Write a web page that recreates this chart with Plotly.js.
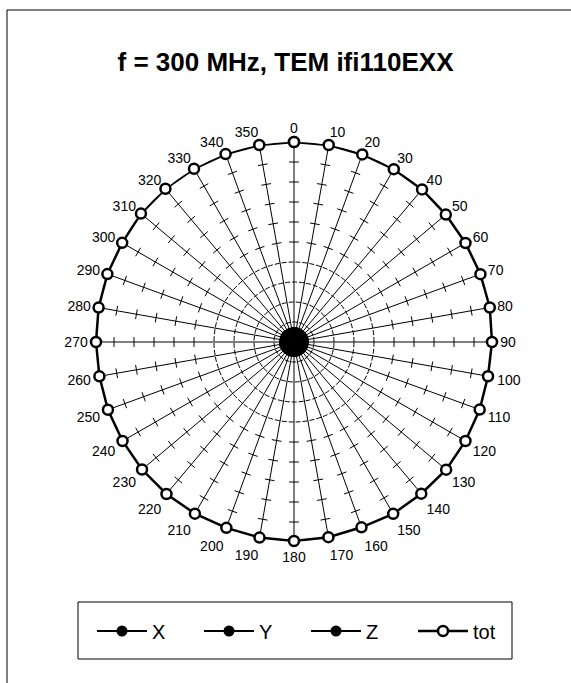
<!DOCTYPE html>
<html>
<head>
<meta charset="utf-8">
<script src="https://cdn.plot.ly/plotly-3.0.1.min.js"></script>
<style>
  html, body { margin: 0; padding: 0; background: #fff; }
  #chart { width: 571px; height: 683px; }
</style>
</head>
<body>
<div id="chart"></div>
<script>
// Angles (degrees) used as angular categories / tick labels
const angles = ['0','10','20','30','40','50','60','70','80','90','100','110','120','130','140','150','160','170',
                '180','190','200','210','220','230','240','250','260','270','280','290','300','310','320','330','340','350'];

// Series values (relative field strength)
const xVals = [0.045,0.045,0.046,0.045,0.044,0.045,0.045,0.046,0.045,0.045,0.044,0.045,0.045,0.046,0.045,0.045,0.044,0.045,
               0.045,0.045,0.046,0.045,0.044,0.045,0.045,0.046,0.045,0.045,0.044,0.045,0.045,0.046,0.045,0.045,0.044,0.045];
const yVals = [0.043,0.043,0.044,0.043,0.043,0.042,0.043,0.044,0.043,0.043,0.043,0.042,0.043,0.044,0.043,0.043,0.043,0.042,
               0.043,0.044,0.043,0.043,0.043,0.042,0.043,0.044,0.043,0.043,0.043,0.042,0.043,0.044,0.043,0.043,0.043,0.042];
const zVals = [0.047,0.047,0.048,0.047,0.046,0.047,0.047,0.048,0.047,0.047,0.046,0.047,0.047,0.048,0.047,0.047,0.046,0.047,
               0.047,0.047,0.048,0.047,0.046,0.047,0.047,0.048,0.047,0.047,0.046,0.047,0.047,0.048,0.047,0.047,0.046,0.047];
const totVals = [1.000,1.000,0.998,0.998,0.996,0.991,0.990,0.992,0.994,0.990,0.985,0.988,0.990,0.993,0.990,0.992,0.986,0.991,
                 0.995,0.993,0.989,0.991,0.992,0.992,0.990,0.990,0.988,0.990,0.992,0.993,0.992,0.999,1.000,1.000,1.000,1.000];

// Radial grid: full dashed rings and tick-cross rings
const ringVals = [0.1, 0.2, 0.3, 0.4];
const crossVals = [0.5, 0.6, 0.7, 0.8, 0.9];

function closed(a) { return a.concat([a[0]]); }

// decorative tick crosses on each spoke (grid decoration)
const crossR = [], crossT = [], crossA = [];
crossVals.forEach(r => {
  angles.forEach((a, i) => { crossR.push(r); crossT.push(a); crossA.push(i * 10); });
});

const font = 'Liberation Sans, Arial, sans-serif';

const traces = [
  {
    type: 'scatterpolar', r: crossR, theta: crossT, mode: 'markers',
    marker: { symbol: 'line-ew', size: 7, angle: crossA, color: '#000', line: { color: '#000', width: 1 } },
    showlegend: false, hoverinfo: 'skip', cliponaxis: false
  },
  {
    type: 'scatterpolar', name: 'X', r: closed(xVals), theta: closed(angles), mode: 'lines+markers',
    line: { color: '#000', width: 2 }, marker: { symbol: 'circle', size: 11, color: '#000' }, cliponaxis: false
  },
  {
    type: 'scatterpolar', name: 'Y', r: closed(yVals), theta: closed(angles), mode: 'lines+markers',
    line: { color: '#000', width: 2 }, marker: { symbol: 'circle', size: 11, color: '#000' }, cliponaxis: false
  },
  {
    type: 'scatterpolar', name: 'Z', r: closed(zVals), theta: closed(angles), mode: 'lines+markers',
    line: { color: '#000', width: 2 }, marker: { symbol: 'circle', size: 11, color: '#000' }, cliponaxis: false
  },
  {
    type: 'scatterpolar', name: 'tot', r: closed(totVals), theta: closed(angles), mode: 'lines+markers',
    line: { color: '#000', width: 2.5 },
    marker: { symbol: 'circle', size: 10, color: '#fff', line: { color: '#000', width: 2.5 } }, cliponaxis: false
  }
];

const layout = {
  width: 571, height: 683,
  margin: { l: 0, r: 0, t: 0, b: 0, autoexpand: false },
  paper_bgcolor: '#fff',
  font: { family: font, color: '#000' },
  title: {
    text: 'f = 300 MHz, TEM ifi110EXX',
    font: { family: font, size: 26, color: '#000', weight: 'bold' },
    x: 0.5, xanchor: 'center', y: 1 - 62 / 683, yanchor: 'middle'
  },
  polar: {
    domain: { x: [94 / 571, 494 / 571], y: [141 / 683, 541 / 683] },
    bgcolor: '#fff',
    radialaxis: {
      range: [0, 1], tickvals: ringVals, showticklabels: false, ticks: '', showline: false,
      gridcolor: '#000', gridwidth: 1, griddash: '5px,2px'
    },
    angularaxis: {
      type: 'category', categoryarray: angles, rotation: 90, direction: 'clockwise',
      showline: false, ticks: 'outside', ticklen: 3, tickcolor: 'rgba(0,0,0,0)',
      gridcolor: '#000', gridwidth: 1,
      tickfont: { family: font, size: 14, color: '#000' }
    }
  },
  showlegend: true,
  legend: {
    orientation: 'h', x: 92 / 571, xanchor: 'left', y: 1 - 631 / 683, yanchor: 'middle',
    font: { family: font, size: 20, color: '#000' },
    bgcolor: 'rgba(0,0,0,0)', borderwidth: 0,
    entrywidth: 42, itemwidth: 50
  },
  shapes: [
    { type: 'rect', xref: 'paper', yref: 'paper', x0: 78 / 571, x1: 512 / 571, y0: 1 - 659 / 683, y1: 1 - 602 / 683,
      line: { color: '#000', width: 1 }, fillcolor: 'rgba(0,0,0,0)' },
    { type: 'line', xref: 'paper', yref: 'paper', x0: 7 / 571, x1: 7 / 571, y0: 0, y1: 1 - 10 / 683,
      line: { color: '#000', width: 1 } },
    { type: 'line', xref: 'paper', yref: 'paper', x0: 7 / 571, x1: 1, y0: 1 - 10 / 683, y1: 1 - 10 / 683,
      line: { color: '#000', width: 1 } }
  ]
};

Plotly.newPlot('chart', traces, layout, { displayModeBar: false, staticPlot: true });
</script>
</body>
</html>
